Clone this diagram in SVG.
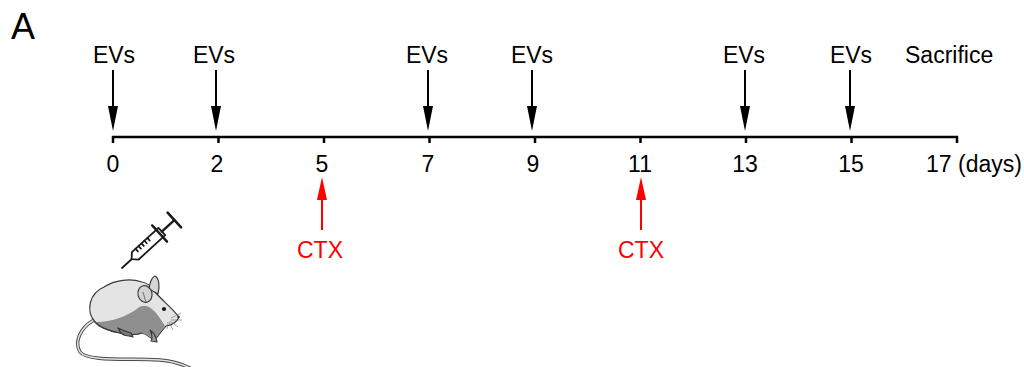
<svg xmlns="http://www.w3.org/2000/svg" width="1024" height="367" viewBox="0 0 1024 367">
  <defs>
    <style>
      .lbl { font-family: "Liberation Sans", Arial, sans-serif; font-size: 23px; fill: #000; }
      .red { fill: #ff0000; }
      .evs { stroke: #000; stroke-width: 2; fill: none; }
      .ctx { stroke: #ff0000; stroke-width: 2; fill: none; }
      .axis { stroke: #000; stroke-width: 2.5; fill: none; }
      .outline { stroke: #3a3a3a; stroke-width: 1.2; stroke-linejoin: round; }
    </style>
  </defs>

  <rect width="1024" height="367" fill="#fff"/>

  <text class="lbl" x="11" y="39" style="font-size:36px">A</text>

  <!-- timeline axis with ticks -->
  <g id="timeline">
    <path class="axis" d="M113 143 V137 H957 V143 M218.5 137 V143 M324 137 V143 M429.5 137 V143 M535 137 V143 M640.5 137 V143 M746 137 V143 M851.5 137 V143"/>
    <g class="lbl" text-anchor="middle">
      <text x="113" y="172">0</text>
      <text x="217" y="172">2</text>
      <text x="322" y="172">5</text>
      <text x="428" y="172">7</text>
      <text x="533" y="172">9</text>
      <text x="640" y="172">11</text>
      <text x="745" y="172">13</text>
      <text x="851" y="172">15</text>
    </g>
    <text class="lbl" x="926" y="172">17 (days)</text>
  </g>

  <!-- EV injection markers -->
  <g id="ev-injections">
    <g class="lbl" text-anchor="middle">
      <text x="114" y="63">EVs</text>
      <text x="214" y="63">EVs</text>
      <text x="427" y="63">EVs</text>
      <text x="532" y="63">EVs</text>
      <text x="744" y="63">EVs</text>
      <text x="851" y="63">EVs</text>
    </g>
    <g>
      <path d="M113 70 V107" class="evs"/><path d="M108 106 H118 L113 131 Z"/>
      <path d="M216 70 V107" class="evs"/><path d="M211 106 H221 L216 131 Z"/>
      <path d="M428 70 V107" class="evs"/><path d="M423 106 H433 L428 131 Z"/>
      <path d="M532 70 V107" class="evs"/><path d="M527 106 H537 L532 131 Z"/>
      <path d="M745 70 V107" class="evs"/><path d="M740 106 H750 L745 131 Z"/>
      <path d="M850 70 V107" class="evs"/><path d="M845 106 H855 L850 131 Z"/>
    </g>
  </g>

  <text id="sacrifice" class="lbl" x="905" y="63">Sacrifice</text>

  <!-- CTX injury markers -->
  <g id="ctx-injuries">
    <path d="M322 230 V198" class="ctx"/><path d="M317 200 H327 L322 177 Z" fill="#ff0000"/>
    <path d="M641 230 V198" class="ctx"/><path d="M636 200 H646 L641 177 Z" fill="#ff0000"/>
    <g class="lbl red" text-anchor="middle">
      <text x="320" y="258">CTX</text>
      <text x="641" y="258">CTX</text>
    </g>
  </g>

  <!-- syringe, drawn along its own axis then tilted -->
  <g id="syringe" transform="translate(122 268) rotate(-42.5)" fill="none" stroke="#1a1a1a" stroke-width="1.8" stroke-linecap="round" stroke-linejoin="round">
    <path d="M0 0 H13"/>
    <path d="M13 0 L18 -5 H54 V5 H18 Z" fill="#fff"/>
    <path d="M23 -5 V-1.5 M27 -5 V-1.5 M31 -5 V-1.5 M35 -5 V-1.5 M39 -5 V-1.5"/>
    <path d="M51 -11 V11" stroke-width="2.4"/>
    <path d="M54 0 H71" stroke-width="2.4"/>
    <path d="M71 -10 V10" stroke-width="2.6"/>
  </g>

  <!-- mouse -->
  <g id="mouse">
    <path d="M94 320 C 80 328, 74 342, 80 352 C 88 362, 130 358, 160 360 C 172 361, 182 364, 190 368" fill="none" stroke="#4a4a4a" stroke-width="3.4" stroke-linecap="round"/>
    <path d="M94 320 C 80 328, 74 342, 80 352 C 88 362, 130 358, 160 360 C 172 361, 182 364, 190 368" fill="none" stroke="#e2e2e2" stroke-width="1.5" stroke-linecap="round"/>
    <path class="outline" fill="#e4e4e4" d="M95 322 C 85 310, 90 293, 104 287 C 115 280, 130 278, 142 282 C 148 283, 152 287, 155 292 C 162 300, 172 308, 179 317 C 177 322, 172 325, 166 326 C 163 330, 160 333, 158 336 L 154 340 C 150 338, 147 334, 142 333 C 136 335, 128 335, 120 333 C 110 331, 100 328, 95 322 Z"/>
    <path fill="#8f8f8f" d="M96 322 C 112 322, 128 316, 138 308 C 148 300, 158 314, 165 326 C 162 330, 159 333, 157 336 L 154 339 C 150 337, 147 334, 142 333 C 136 335, 128 335, 120 333 C 110 331, 100 328, 96 322 Z"/>
    <path class="outline" fill="none" d="M95 322 C 100 328, 110 331, 120 333 C 128 335, 136 335, 142 333"/>
    <path class="outline" fill="#7a7a7a" d="M118 328 C 120 333, 124 336, 129 336 L 133 337 L 131 333 C 127 332, 122 330, 118 328 Z"/>
    <path class="outline" fill="#9a9a9a" d="M150 330 C 152 334, 153 338, 151 341 L 157 342 L 156 338 C 155 335, 153 332, 150 330 Z"/>
    <path class="outline" fill="#d6d6d6" d="M149 289 C 150 282, 152 277, 155 276 C 159 278, 160 286, 158 294 Z"/>
    <ellipse class="outline" cx="145" cy="294" rx="7" ry="8.5" transform="rotate(-15 145 294)" fill="#d2d2d2"/>
    <path d="M143 292 C 144 296, 145 299, 146 302" stroke="#555" stroke-width="0.8" fill="none"/>
    <circle cx="164" cy="309" r="2.1" fill="#1a1a1a"/>
    <circle cx="178.5" cy="317" r="1.2" fill="#333"/>
    <path d="M171 318 L 181 313 M171 320 L 182 320 M170 321 L 178 327 M169 322 L 173 330 M168 322 L 167 329" stroke="#666" stroke-width="0.6" fill="none"/>
  </g>
</svg>
